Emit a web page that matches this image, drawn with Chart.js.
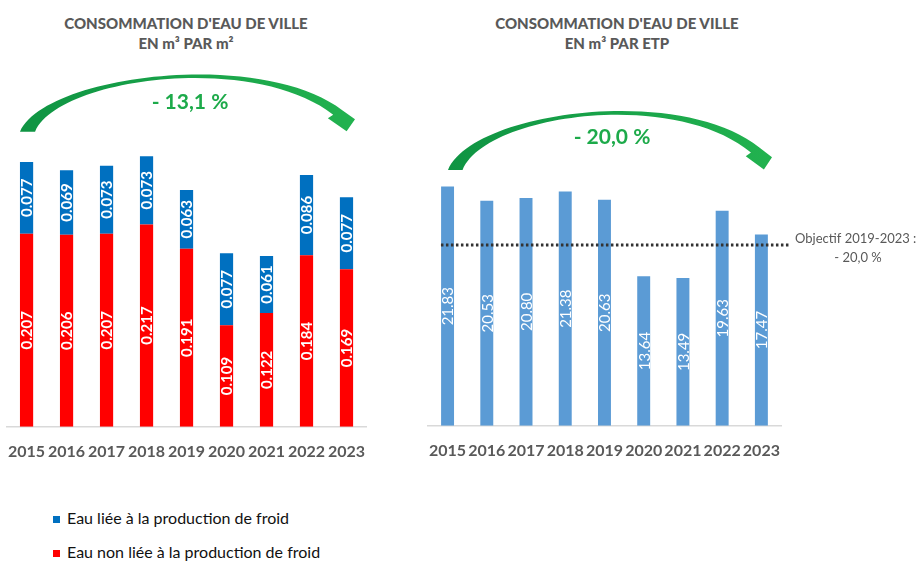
<!DOCTYPE html>
<html lang="fr">
<head>
<meta charset="utf-8">
<script src="https://cdn.jsdelivr.net/npm/chart.js@4.4.1/dist/chart.umd.min.js"></script>
<style>
  body { margin: 0; background: #fff; }
  #page { position: relative; width: 923px; height: 561px; overflow: hidden; background: #fff; font-family: Lato, sans-serif; }
  canvas { position: absolute; top: 0; }
  .titre { position: absolute; top: 13px; transform: translateX(-50%); white-space: nowrap; text-align: center;
           font: 900 15px/20px Lato, sans-serif; color: #595959; }
  .legende { position: absolute; left: 53px; font: 16px Lato, sans-serif; color: #111; white-space: nowrap; }
  .legende span { display: inline-block; width: 7px; height: 7px; margin-right: 7px; vertical-align: 1px; }
</style>
</head>
<body>
<div id="page">
  <div class="titre" style="left:186px">CONSOMMATION D'EAU DE VILLE<br>EN m³ PAR m²</div>
  <div class="titre" style="left:617px">CONSOMMATION D'EAU DE VILLE<br>EN m³ PAR ETP</div>
  <canvas id="graphM2" width="407" height="480" style="left:-7px"></canvas>
  <canvas id="graphEtp" width="509" height="480" style="left:414px"></canvas>
  <div class="legende" style="top:508px"><span style="background:#0070C0"></span>Eau liée à la production de froid</div>
  <div class="legende" style="top:542px"><span style="background:#FF0000"></span>Eau non liée à la production de froid</div>
</div>
<script>
const annees = ["2015", "2016", "2017", "2018", "2019", "2020", "2021", "2022", "2023"];
const eauFroid = [0.077, 0.069, 0.073, 0.073, 0.063, 0.077, 0.061, 0.086, 0.077];
const eauHorsFroid = [0.207, 0.206, 0.207, 0.217, 0.191, 0.109, 0.122, 0.184, 0.169];
const eauParEtp = [21.83, 20.53, 20.80, 21.38, 20.63, 13.64, 13.49, 19.63, 17.47];
const objectifEtp = 16.50;

const bleuFroid = "#0070C0";
const rougeHorsFroid = "#FF0000";
const bleuEtp = "#5B9BD5";
const vert = "#1DAA4A";

// étiquettes blanches tournées au milieu de chaque barre
const etiquettes = {
  id: "etiquettes",
  afterDatasetsDraw(chart, args, opts) {
    const ctx = chart.ctx;
    ctx.save();
    ctx.fillStyle = "#fff";
    ctx.font = opts.font;
    ctx.textAlign = "center";
    ctx.textBaseline = "middle";
    chart.data.datasets.forEach((ds, i) => {
      chart.getDatasetMeta(i).data.forEach((bar, j) => {
        const milieu = (bar.y + bar.base) / 2;
        ctx.save();
        ctx.translate(bar.x + 1, milieu);
        ctx.rotate(-Math.PI / 2);
        ctx.fillText(ds.data[j].toFixed(opts.decimales), 0, 0);
        ctx.restore();
      });
    });
    ctx.restore();
  }
};

// flèche verte courbe + pourcentage (coordonnées de la page, décalées du canvas)
const fleche = {
  id: "fleche",
  afterDraw(chart, args, o) {
    const ctx = chart.ctx;
    const dx = -o.decalage;
    const W = o.x1 - o.x0, H = o.yBase - o.yTop;
    const P = (u, v) => [o.x0 + dx + u * W, o.yTop + v * H];
    ctx.save();
    const grad = ctx.createLinearGradient(o.x0 + dx, 0, o.x1 + dx, 0);
    grad.addColorStop(0, "#0F9443");
    grad.addColorStop(1, "#22B24F");
    ctx.fillStyle = grad;
    ctx.beginPath();
    ctx.moveTo(...P(0, 1));
    ctx.bezierCurveTo(...P(0.075, 0), ...P(0.716, -0.476), ...P(0.962, 0.62));
    ctx.lineTo(...P(1.0, 0.78));
    ctx.lineTo(...P(0.975, 0.99));
    ctx.lineTo(...P(0.919, 0.764));
    ctx.lineTo(...P(0.935, 0.70));
    ctx.bezierCurveTo(...P(0.693, -0.406), ...P(0.113, 0.053), ...P(0.045, 1));
    ctx.closePath();
    ctx.fill();
    ctx.fillStyle = vert;
    ctx.font = "bold 21px Lato, sans-serif";
    ctx.textAlign = "center";
    ctx.textBaseline = "middle";
    ctx.fillText(o.texte, o.tx + dx, o.ty);
    ctx.restore();
  }
};

// ligne pointillée de l'objectif
const objectif = {
  id: "objectif",
  afterDatasetsDraw(chart, args, o) {
    const ctx = chart.ctx;
    const y = chart.scales.y.getPixelForValue(o.valeur);
    ctx.save();
    ctx.strokeStyle = "#333";
    ctx.lineWidth = 3;
    ctx.setLineDash([2.5, 2.5]);
    ctx.beginPath();
    ctx.moveTo(chart.chartArea.left + 13, y);
    ctx.lineTo(chart.chartArea.right + 8, y);
    ctx.stroke();
    ctx.setLineDash([]);
    ctx.fillStyle = "#595959";
    ctx.font = "13px Lato, sans-serif";
    ctx.textBaseline = "middle";
    ctx.textAlign = "left";
    ctx.fillText(o.texte1, chart.chartArea.right + 14, y - 6);
    ctx.textAlign = "center";
    ctx.fillText(o.texte2, chart.chartArea.right + 77, y + 13);
    ctx.restore();
  }
};

function axeX() {
  return {
    offset: true,
    grid: { display: false, drawTicks: false },
    border: { color: "#D9D9D9", width: 1.5 },
    ticks: { color: "#595959", font: { family: "Lato", size: 16, weight: "bold" }, padding: 15, maxRotation: 0, autoSkip: false }
  };
}

new Chart(document.getElementById("graphM2"), {
  type: "bar",
  data: {
    labels: annees,
    datasets: [
      { label: "Eau non liée à la production de froid", data: eauHorsFroid, backgroundColor: rougeHorsFroid },
      { label: "Eau liée à la production de froid", data: eauFroid, backgroundColor: bleuFroid }
    ]
  },
  options: {
    responsive: false,
    animation: false,
    barPercentage: 0.33,
    categoryPercentage: 1,
    layout: { padding: { top: 119, left: 0, right: 33.5, bottom: 4 } },
    scales: {
      x: Object.assign(axeX(), { stacked: true }),
      y: { display: false, stacked: true, min: 0, max: 0.33 }
    },
    plugins: {
      legend: { display: false },
      tooltip: { enabled: false },
      etiquettes: { font: "bold 15px Lato, sans-serif", decimales: 3 },
      fleche: { decalage: -7, x0: 20, x1: 355, yBase: 131.7, yTop: 75, texte: "- 13,1 %", tx: 190, ty: 102 }
    }
  },
  plugins: [etiquettes, fleche]
});

new Chart(document.getElementById("graphEtp"), {
  type: "bar",
  data: {
    labels: annees,
    datasets: [
      { label: "m³ par ETP", data: eauParEtp, backgroundColor: bleuEtp }
    ]
  },
  options: {
    responsive: false,
    animation: false,
    barPercentage: 0.33,
    categoryPercentage: 1,
    layout: { padding: { top: 119, left: 0, right: 142, bottom: 5 } },
    scales: {
      x: axeX(),
      y: { display: false, min: 0, max: 28 }
    },
    plugins: {
      legend: { display: false },
      tooltip: { enabled: false },
      etiquettes: { font: "15px Lato, sans-serif", decimales: 2 },
      fleche: { decalage: 414, x0: 448, x1: 772, yBase: 170, yTop: 111.5, texte: "- 20,0 %", tx: 612, ty: 137 },
      objectif: { valeur: objectifEtp, texte1: "Objectif 2019-2023 :", texte2: "- 20,0 %" }
    }
  },
  plugins: [etiquettes, fleche, objectif]
});
</script>
</body>
</html>
